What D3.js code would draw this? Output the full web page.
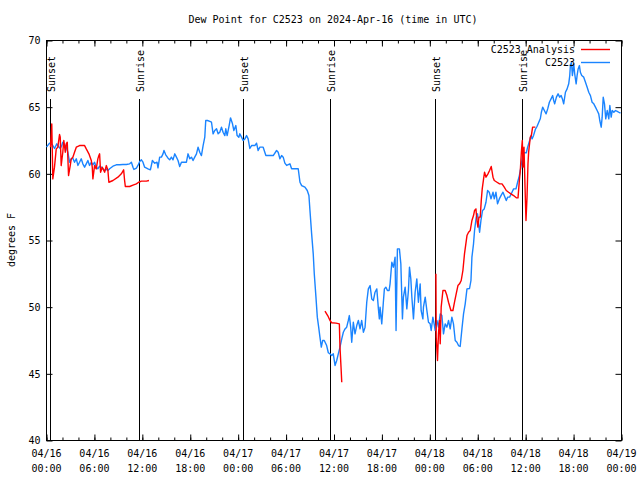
<!DOCTYPE html>
<html>
<head>
<meta charset="utf-8">
<script src="https://cdn.jsdelivr.net/npm/d3@7"></script>
<style>
  html, body { margin: 0; padding: 0; background: #fff; }
  svg { display: block; }
  text { font-family: "DejaVu Sans Mono", "Liberation Mono", monospace; font-size: 10px; fill: #000; }
</style>
</head>
<body>
<svg id="chart" width="640" height="480"></svg>
<script>
// ---- data (hours after 2024-04-16 00:00 UTC, dew point in °F) ----
const chartTitle = "Dew Point for C2523 on 2024-Apr-16 (time in UTC)";
const yLabel = "degrees F";
const seriesNames = ["C2523_Analysis", "C2523"];
const yTicks = [40, 45, 50, 55, 60, 65, 70];

const obsHours = [
  0.00,0.38,0.72,1.00,1.29,1.51,1.72,1.88,2.04,2.26,
  2.47,2.67,2.89,3.10,3.30,3.51,3.73,3.93,4.14,4.35,
  4.55,4.77,4.98,5.18,5.39,5.61,5.81,6.02,6.23,6.43,
  6.65,6.86,7.06,7.28,7.49,7.69,7.90,8.32,8.74,9.16,
  9.57,10.00,10.41,10.63,10.83,10.95,11.25,11.45,11.67,11.88,
  12.08,12.29,12.71,13.01,13.26,13.55,13.84,13.96,14.17,14.39,
  14.59,14.71,14.93,15.22,15.43,15.64,15.84,16.06,16.27,16.47,
  16.68,16.90,17.18,17.52,17.72,17.94,18.15,18.35,18.56,18.78,
  18.98,19.19,19.40,19.61,19.82,19.94,20.16,20.45,20.66,20.86,
  21.07,21.29,21.49,21.70,21.91,22.11,22.33,22.45,22.62,22.87,
  23.04,23.29,23.46,23.71,23.87,24.08,24.21,24.42,24.62,24.84,
  25.05,25.25,25.46,25.68,26.09,26.30,26.50,26.72,27.13,27.47,
  27.76,28.39,28.81,29.01,29.23,29.44,29.64,29.85,30.07,30.48,
  30.69,31.23,31.52,31.74,31.95,32.36,32.65,32.86,32.99,33.20,
  33.40,33.53,33.74,33.91,34.08,34.24,34.41,34.58,34.78,35.08,
  35.29,35.50,35.71,35.91,36.13,36.34,36.54,36.75,36.97,37.17,
  37.38,37.59,37.79,37.92,38.09,38.22,38.42,38.63,38.85,39.05,
  39.26,39.47,39.68,39.89,40.10,40.30,40.52,40.73,40.93,41.14,
  41.36,41.56,41.68,41.77,41.98,42.18,42.31,42.49,42.69,42.90,
  43.02,43.24,43.44,43.65,43.77,43.94,44.19,44.37,44.57,44.69,
  44.91,45.12,45.32,45.45,45.62,45.75,45.95,46.16,46.37,46.57,
  46.79,46.91,47.13,47.20,47.42,47.63,47.83,48.04,48.17,48.38,
  48.54,48.67,48.88,49.08,49.30,49.51,49.71,49.92,50.14,50.34,
  50.55,50.76,50.96,51.18,51.39,51.59,51.80,52.02,52.22,52.43,
  52.65,52.97,53.15,53.27,53.47,53.60,53.81,53.97,54.23,54.40,
  54.60,54.81,55.03,55.23,55.44,55.66,55.91,56.07,56.28,56.48,
  56.70,56.91,57.16,57.32,57.57,57.74,57.99,58.29,58.49,58.79,
  58.99,59.21,59.33,59.46,59.67,59.83,60.08,60.25,60.50,60.67,
  60.80,61.00,61.21,61.42,61.63,61.84,61.97,62.13,62.34,62.56,
  62.76,62.97,63.18,63.38,63.51,63.63,63.85,64.06,64.26,64.44,
  64.60,64.76,64.98,65.19,65.39,65.52,65.60,65.73,65.85,66.02,
  66.14,66.32,66.44,66.57,66.73,66.85,67.02,67.27,67.49,67.70,
  67.90,68.11,68.32,68.53,68.74,68.95,69.15,69.28,69.46,69.58,
  69.71,69.87,70.03,70.21,70.41,70.54,70.71,70.84,71.04,71.25,
  71.47,71.76,71.88
];
const obsDew = [
  62.0,62.3,62.2,61.9,62.25,62.05,61.9,62.07,62.37,62.18,
  62.0,61.62,60.87,61.13,61.17,60.87,61.13,60.63,60.87,61.13,
  60.75,60.5,60.75,61.0,60.63,60.87,60.68,60.87,60.5,60.38,
  60.57,60.5,60.38,60.25,60.33,60.25,60.38,60.57,60.68,60.68,
  60.7,60.7,60.75,60.87,60.5,60.33,60.42,60.63,60.93,61.05,
  60.87,60.5,60.38,60.3,61.0,60.8,60.87,60.45,61.25,61.25,
  61.5,61.75,61.43,61.17,61.05,61.25,61.05,61.5,61.25,61.0,
  60.55,60.87,60.87,60.87,61.5,61.13,61.25,61.0,61.25,61.5,
  62.0,61.62,61.37,62.12,62.75,64.0,64.0,63.93,63.87,63.0,
  63.25,63.38,63.0,63.12,63.5,63.12,62.87,63.38,62.87,63.62,
  64.2,63.75,63.25,63.62,62.87,62.75,63.0,62.75,62.5,62.62,
  62.87,62.62,61.9,62.12,62.12,62.3,61.75,62.0,62.0,61.37,
  61.37,61.37,61.75,61.62,61.13,61.37,61.25,60.8,60.63,60.75,
  60.38,60.38,60.38,59.37,59.12,59.0,58.75,58.37,57.25,55.5,
  54.0,52.5,50.75,49.25,48.5,47.75,47.0,47.5,47.5,47.12,
  46.58,46.5,46.37,46.5,45.63,46.0,46.5,47.0,47.62,48.12,
  48.37,48.5,49.0,49.37,48.5,47.37,48.87,48.0,48.62,49.0,
  48.37,49.0,48.12,48.5,50.37,51.37,51.62,50.62,50.5,51.12,
  51.37,49.87,49.12,50.0,48.75,50.37,51.37,51.5,51.25,51.25,
  51.75,53.37,53.0,53.75,48.25,54.37,54.37,53.25,49.12,50.75,
  51.5,49.87,51.25,53.0,52.12,50.75,49.12,51.12,52.12,50.37,
  51.75,49.75,49.12,50.0,50.75,49.75,48.87,48.75,48.25,49.25,
  48.75,48.25,49.0,48.5,49.5,49.37,48.0,48.75,48.5,49.0,
  48.37,49.25,48.75,47.5,47.37,47.12,47.05,48.37,49.5,50.25,
  51.37,51.4,52.0,53.75,54.75,55.75,56.75,57.0,55.62,56.5,
  57.25,57.37,57.87,58.75,58.62,58.12,58.62,58.12,58.62,57.75,
  58.12,58.37,58.62,58.37,58.0,58.25,58.25,58.62,58.87,58.87,
  59.37,59.87,60.25,60.75,61.5,61.58,61.58,62.0,62.5,62.87,
  62.62,62.9,63.33,63.55,63.85,64.15,64.62,65.0,64.75,64.5,
  64.87,65.37,65.62,65.87,65.5,65.25,65.75,66.0,65.75,65.87,
  65.62,65.25,66.12,66.37,66.75,67.37,68.12,68.37,67.37,68.25,
  67.5,66.75,67.37,67.87,68.12,67.62,67.37,67.25,66.87,66.5,
  66.12,65.87,65.37,65.25,65.0,64.75,64.5,64.0,63.5,64.25,
  65.75,65.25,64.12,64.75,64.12,65.12,64.25,64.75,64.62,64.75,
  64.68,64.58,64.58
];

// analysis series; null marks a gap
const anaHours = [
  0.50,0.66,0.79,1.00,1.22,1.42,1.63,1.72,1.84,2.04,
  2.17,2.35,2.47,2.60,2.76,2.97,3.10,3.30,3.51,3.73,
  4.14,4.77,4.98,5.31,5.61,5.73,5.81,6.02,6.23,6.43,
  6.56,6.65,6.77,6.99,7.28,7.49,7.69,7.81,8.32,8.94,
  9.37,9.66,9.78,9.87,10.41,10.91,11.25,11.54,11.88,12.51,
  12.83,
  24.00,
  34.87,35.21,35.50,35.71,36.25,36.67,36.75,36.88,36.97,
  42.00,
  48.76,48.80,48.96,49.08,49.21,49.30,49.42,49.64,49.92,50.14,
  50.34,50.64,50.89,51.09,51.30,51.52,51.72,51.93,52.14,52.34,
  52.65,52.85,53.06,53.27,53.47,53.60,53.77,53.90,54.02,54.15,
  54.31,54.44,54.56,54.73,54.85,55.03,55.28,55.48,55.69,55.91,
  56.07,56.41,56.73,57.04,57.32,57.57,57.86,58.16,58.49,58.83,
  59.04,59.21,59.33,59.46,59.58,59.67,59.79,59.92,60.04,60.17,
  60.29,60.37,60.58,60.71,60.87,61.21
];
const anaDew = [
  62.0,63.75,59.62,60.5,61.87,62.0,62.95,62.75,60.62,61.62,
  62.5,61.62,62.25,62.37,59.87,60.62,61.12,61.25,61.62,62.0,
  62.12,62.12,61.87,61.5,61.0,60.5,59.62,60.62,60.37,61.12,
  61.37,61.5,60.12,60.5,60.12,60.62,60.25,59.37,59.5,59.75,
  60.0,60.3,59.5,59.05,59.05,59.17,59.25,59.37,59.45,59.45,
  59.5,
  null,
  49.7,49.37,49.0,48.83,48.8,48.75,47.0,45.5,44.37,
  null,
  52.5,47.75,46.0,48.0,49.0,47.25,50.0,51.25,51.25,50.87,
  50.37,49.75,49.75,50.37,51.0,51.62,51.75,52.0,52.75,54.0,
  55.37,55.62,55.75,56.5,56.87,57.25,57.37,56.5,56.0,56.75,
  56.75,58.0,58.87,59.62,60.12,59.75,60.0,60.25,60.55,59.75,
  59.5,59.37,59.25,59.25,59.0,58.75,58.62,58.5,58.37,58.2,
  58.2,59.5,60.25,61.62,62.5,60.5,62.0,59.0,56.5,58.25,
  60.75,61.62,62.75,62.87,63.5,63.5
];

// sunrise / sunset marks (hours after start)
const sunHours = [0.50, 11.54, 24.59, 35.50, 48.67, 59.58];
const sunLabels = ["Sunset", "Sunrise", "Sunset", "Sunrise", "Sunset", "Sunrise"];

// ---- drawing ----
const t0 = Date.UTC(2024, 3, 16, 0, 0);
const toDate = h => new Date(t0 + h * 3600e3);
const svg = d3.select("#chart");

const L = 46.5, R = 621.5, T = 40.5, B = 440.5;
const x = d3.scaleUtc().domain([new Date(t0), toDate(72)]).range([L, R]);
const y = d3.scaleLinear().domain([40, 70]).range([B, T]);

const obs = obsHours.map((h, i) => ({ t: toDate(h), v: obsDew[i] }));
const ana = anaHours.map((h, i) => ({ t: toDate(h), v: anaDew[i] }));

const blue = "#1a84ff", red = "#ff0000";

// title
svg.append("text").attr("x", 333).attr("y", 23).attr("text-anchor", "middle").text(chartTitle);

// axes: ticks inward, mirrored
const major = d3.utcHour.every(6), minor = d3.utcHour.every(2);
function styleAxis(g) { g.select(".domain").remove(); g.selectAll("line").attr("stroke", "#000"); }
svg.append("g").attr("transform", `translate(0,${B})`)
  .call(d3.axisBottom(x).ticks(minor).tickSize(-3).tickFormat("")).call(styleAxis);
svg.append("g").attr("transform", `translate(0,${B})`)
  .call(d3.axisBottom(x).ticks(major).tickSize(-6).tickFormat("")).call(styleAxis);
svg.append("g").attr("transform", `translate(0,${T})`)
  .call(d3.axisTop(x).ticks(minor).tickSize(-3).tickFormat("")).call(styleAxis);
svg.append("g").attr("transform", `translate(0,${T})`)
  .call(d3.axisTop(x).ticks(major).tickSize(-6).tickFormat("")).call(styleAxis);
svg.append("g").attr("transform", `translate(${L},0)`)
  .call(d3.axisLeft(y).tickValues(yTicks).tickSize(-6).tickPadding(6).tickFormat(d3.format("d")))
  .call(styleAxis)
  .call(g => g.selectAll("text").attr("font-family", null).attr("font-size", null));
svg.append("g").attr("transform", `translate(${R},0)`)
  .call(d3.axisRight(y).tickValues(yTicks).tickSize(-6).tickFormat("")).call(styleAxis);

// x tick labels (two lines)
const fmtD = d3.utcFormat("%m/%d"), fmtT = d3.utcFormat("%H:%M");
const xl = svg.append("g").selectAll("text").data(x.ticks(major)).join("text")
  .attr("text-anchor", "middle").attr("transform", d => `translate(${x(d)},0)`);
xl.append("tspan").attr("x", 0).attr("y", 457).text(fmtD);
xl.append("tspan").attr("x", 0).attr("y", 472).text(fmtT);

// frame
svg.append("rect").attr("x", L).attr("y", T).attr("width", R - L).attr("height", B - T)
  .attr("fill", "none").attr("stroke", "#000").attr("stroke-width", 1);

// y label
svg.append("text").attr("transform", "translate(11,240) rotate(-90)")
  .attr("text-anchor", "middle").attr("dy", "0.35em").text(yLabel);

// sun lines
const sun = svg.append("g");
sunHours.forEach((h, i) => {
  const sx = Math.round(x(toDate(h))) + 0.5;
  sun.append("line").attr("x1", sx).attr("x2", sx).attr("y1", 99).attr("y2", B)
    .attr("stroke", "#000").attr("stroke-width", 1);
  sun.append("text").attr("transform", `translate(${sx + 1},92) rotate(-90)`)
    .attr("dy", "0.35em").text(sunLabels[i]);
});

// series
const line = d3.line().defined(d => d.v != null).x(d => x(d.t)).y(d => y(d.v));
svg.append("path").datum(obs).attr("d", line).attr("fill", "none")
  .attr("stroke", blue).attr("stroke-width", 1.4).attr("stroke-linejoin", "round");
svg.append("path").datum(ana).attr("d", line).attr("fill", "none")
  .attr("stroke", red).attr("stroke-width", 1.4).attr("stroke-linejoin", "round");

// legend
const legColors = [red, blue];
seriesNames.forEach((n, i) => {
  const ly = 49.5 + i * 13;
  svg.append("text").attr("x", 575).attr("y", ly).attr("dy", "0.35em").attr("text-anchor", "end").text(n);
  svg.append("line").attr("x1", 581).attr("x2", 610).attr("y1", ly).attr("y2", ly)
    .attr("stroke", legColors[i]).attr("stroke-width", 1.4);
});
</script>
</body>
</html>
